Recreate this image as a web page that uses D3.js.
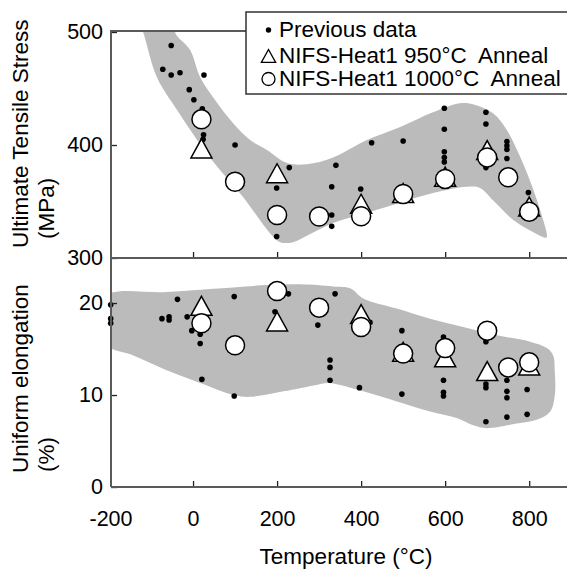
<!DOCTYPE html>
<html><head><meta charset="utf-8">
<script src="https://cdn.jsdelivr.net/npm/d3@7"></script>
<style>
html,body{margin:0;padding:0;background:#fff;}
text{font-family:"Liberation Sans",Arial,Helvetica,sans-serif;fill:#000;}
</style></head>
<body>
<svg id="chart" width="567" height="569"></svg>
<script>
// ---------- DATA ----------
const xTickValues = [-200, 0, 200, 400, 600, 800];
const utsTickValues = [300, 400, 500];
const elongTickValues = [0, 10, 20];

// Previous data: [temperature °C, UTS MPa]
const prevUTS = [[-52,488],[-72,467],[-52,462],[-31,464],[26,462],[-9,449],[2,440],[22,432],
  [25,409],[24,405],[100,400],[229,380],[199,362],[199,319],[340,382],[330,363],[330,338],[330,328],
  [425,402],[500,403.5],[399,361],[598,432.5],[598,414],[598,394],[598,389],[598,385],
  [697,429],[697,418.6],[697,380],[747,403],[747,399.4],[747,396],[747,388],[798,358]];
// Previous data: [temperature °C, uniform elongation %]
const prevElong = [[-196,19.8],[-196,18.3],[-196,17.8],[-37,20.4],[-74,18.3],[-57,18.5],[-57,18.15],
  [-14,18.5],[-3,17.0],[17,16.6],[17,15.6],[21,11.7],[98,20.7],[98,9.9],[227,21.0],[195,19.05],
  [338,21.0],[297,17.6],[326,13.8],[326,13.0],[326,11.6],[421,17.9],[396,10.8],[497,17.0],[497,10.1],
  [596,16.3],[596,11.6],[596,10.3],[596,9.9],[697,15.8],[697,11.2],[697,10.8],[697,7.1],
  [747,11.6],[747,10.4],[747,9.7],[747,7.6],[795,10.6],[795,7.9]];

// NIFS-Heat1 950°C anneal
const heat950Temps = [20, 200, 400, 500, 600, 700, 800];
const heat950UTS   = [397, 375, 348, 357.5, 372, 395.5, 345.5];
const heat950Elong = [19.7, 18.0, 18.8, 14.7, 14.1, 12.6, 13.2];
// NIFS-Heat1 1000°C anneal
const heat1000Temps = [20, 100, 200, 300, 400, 500, 600, 700, 750, 800];
const heat1000UTS   = [422.7, 367.5, 338, 336.7, 337, 356.6, 370, 389, 371.4, 341];
const heat1000Elong = [17.8, 15.4, 21.3, 19.5, 17.4, 14.5, 15.1, 17.0, 13.0, 13.55];

// Scatter bands (closed outlines) [temperature, value]
const utsBand = [[-36,511],[-43,500],[-7,484],[17,460],[52,440],[95,419.5],[136,404.4],[176,395.6],
  [224,384],[271,383],[333,389],[414,404.4],[493,416],[571,429],[635,437],[666,436],[714,428],
  [747,413],[771,395.6],[795,375],[826,342.5],[842,318.6],[838,318],[809,323],[762,333.6],
  [714,351],[683,362],[652,363],[571,357.5],[493,349],[414,340],[333,331],[278,321],[238,314],
  [207,314],[183,322],[119,354],[40,389],[-38,431],[-86,460],[-119,500],[-131,511]];
const elongBand = [[-210,20.7],[-63,21.2],[96,21.7],[175,21.96],[255,22.03],[334,21.8],[374,21.6],
  [405,20.5],[485,19.4],[564,18.3],[643,17.4],[723,16.5],[802,15.8],[842,15.1],[857,14.3],
  [861,12.5],[861,10.0],[850,8.2],[818,7.3],[770,6.9],[699,6.4],[667,6.7],[627,7.5],[564,8.2],
  [485,9.3],[405,10.4],[322,11.3],[294,11.1],[215,10.4],[136,9.8],[96,10.0],[17,11.3],
  [-63,12.7],[-142,14.3],[-210,15.6]];

const legendLabels = ["Previous data", "NIFS-Heat1 950°C\u00a0 Anneal", "NIFS-Heat1 1000°C\u00a0 Anneal"];

// ---------- SCALES ----------
const svg = d3.select("#chart");
const x = d3.scaleLinear().domain([-200, 884]).range([109, 564.5]);
const yU = d3.scaleLinear().domain([300, 500]).range([258, 32]);
const yE = d3.scaleLinear().domain([0, 24.7]).range([487, 259.8]);
const axisColor = "#5a5a5a";
const bandColor = "#bbbbbb";
const leftX = 111, rightX = 567;

const defs = svg.append("defs");
defs.append("clipPath").attr("id","clipTop").append("rect")
  .attr("x", leftX).attr("y", yU(500)).attr("width", rightX-leftX).attr("height", yU(300)-yU(500));
defs.append("clipPath").attr("id","clipBot").append("rect")
  .attr("x", leftX).attr("y", yE.range()[1]).attr("width", rightX-leftX).attr("height", yE(0)-yE.range()[1]);

const triPath = (s) => `M0,${-s*0.95}L${s*1.05},${s*0.95}L${-s*1.05},${s*0.95}Z`;

function panel(yScale, band, prev, t950, v950, t1000, v1000, clipId){
  const g = svg.append("g");
  const line = d3.line().x(d=>x(d[0])).y(d=>yScale(d[1])).curve(d3.curveCatmullRomClosed.alpha(0.5));
  g.append("path").attr("d", line(band)).attr("fill", bandColor).attr("clip-path", `url(#${clipId})`);
  g.selectAll("circle.prev").data(prev).enter().append("circle")
    .attr("cx", d=>x(d[0])).attr("cy", d=>yScale(d[1])).attr("r", 2.8).attr("fill", "#000");
  g.selectAll("path.tri").data(t950.map((t,i)=>[t, v950[i]])).enter().append("path")
    .attr("d", triPath(10)).attr("transform", d=>`translate(${x(d[0])},${yScale(d[1])})`)
    .attr("fill", "#fff").attr("stroke", "#000").attr("stroke-width", 1.5).attr("stroke-linejoin","miter");
  g.selectAll("circle.big").data(t1000.map((t,i)=>[t, v1000[i]])).enter().append("circle")
    .attr("cx", d=>x(d[0])).attr("cy", d=>yScale(d[1])).attr("r", 9.5)
    .attr("fill", "#fff").attr("stroke", "#000").attr("stroke-width", 1.5);
}

panel(yU, utsBand, prevUTS, heat950Temps, heat950UTS, heat1000Temps, heat1000UTS, "clipTop");
panel(yE, elongBand, prevElong, heat950Temps, heat950Elong, heat1000Temps, heat1000Elong, "clipBot");

// ---------- AXES ----------
function styleAxis(g){
  g.select(".domain").remove();
  g.selectAll(".tick line").attr("stroke", "#222").attr("stroke-width", 1.3);
  g.selectAll(".tick text").style("font-size", "21.5px").attr("fill", "#000");
}
// left axes
svg.append("g").attr("transform", `translate(${leftX},0)`)
  .call(d3.axisLeft(yU).tickValues(utsTickValues).tickSize(-6).tickPadding(8).tickFormat(d=>String(d)))
  .call(styleAxis).call(g=>g.selectAll(".tick text").attr("font-family", null));
svg.append("g").attr("transform", `translate(${leftX},0)`)
  .call(d3.axisLeft(yE).tickValues(elongTickValues).tickSize(-6).tickPadding(8).tickFormat(d=>String(d)))
  .call(styleAxis).call(g=>g.selectAll(".tick text").attr("font-family", null));
// bottom axis
svg.append("g").attr("transform", `translate(0,${yE(0)})`)
  .call(d3.axisBottom(x).tickValues(xTickValues).tickSize(-6).tickPadding(24).tickFormat(d=>String(d)))
  .call(styleAxis)
  .call(g=>{ g.selectAll(".tick").filter(d=>d===-200).select("line").remove();
             g.selectAll(".tick").filter(d=>d===-200).attr("transform", `translate(${leftX},0)`);
             g.selectAll(".tick text").attr("font-family", null); });
// ticks on panel divider
svg.append("g").attr("transform", `translate(0,${yU(300)})`)
  .call(d3.axisBottom(x).tickValues(xTickValues.filter(v=>v>-200)).tickSize(-6).tickFormat(""))
  .call(styleAxis);

// frame lines
const frame = svg.append("g").attr("stroke", axisColor).attr("stroke-width", 2).attr("fill","none");
frame.append("line").attr("x1", leftX).attr("x2", leftX).attr("y1", yU(500)-1).attr("y2", yE(0));
frame.append("line").attr("x1", leftX).attr("x2", rightX).attr("y1", yE(0)).attr("y2", yE(0));
frame.append("line").attr("x1", leftX).attr("x2", rightX).attr("y1", yU(300)).attr("y2", yU(300));
frame.append("line").attr("x1", leftX-1).attr("x2", 300).attr("y1", yU(500)-1).attr("y2", yU(500)-1);

// ---------- TITLES ----------
function vtext(txt, bx, by){
  svg.append("text").attr("transform", `translate(${bx},${by}) rotate(-90)`)
    .attr("text-anchor","start").style("font-size","22.5px").text(txt);
}
vtext("Ultimate Tensile Stress", 28, 248);
vtext("(MPa)", 54, 239);
vtext("Uniform elongation", 28, 473);
vtext("(%)", 54, 472);
svg.append("text").attr("x", 346).attr("y", 564).attr("text-anchor","middle")
  .style("font-size","22.5px").text("Temperature (°C)");

// ---------- LEGEND ----------
const lg = svg.append("g");
lg.append("rect").attr("x", 246).attr("y", 12).attr("width", 340).attr("height", 82)
  .attr("fill", "#fff").attr("stroke", "#333").attr("stroke-width", 1.5);
const rowsY = [37, 63, 86];
lg.append("circle").attr("cx", 268.5).attr("cy", rowsY[0]-7).attr("r", 2.7).attr("fill","#000");
lg.append("path").attr("d", triPath(6.8)).attr("transform", `translate(268.5,${rowsY[1]-7})`)
  .attr("fill","#fff").attr("stroke","#000").attr("stroke-width",1.3);
lg.append("circle").attr("cx", 268.5).attr("cy", rowsY[2]-7).attr("r", 6.5)
  .attr("fill","#fff").attr("stroke","#000").attr("stroke-width",1.3);
legendLabels.forEach((t,i)=>{
  lg.append("text").attr("x", 279).attr("y", rowsY[i]).style("font-size","22.5px").text(t);
});
</script>
</body></html>
